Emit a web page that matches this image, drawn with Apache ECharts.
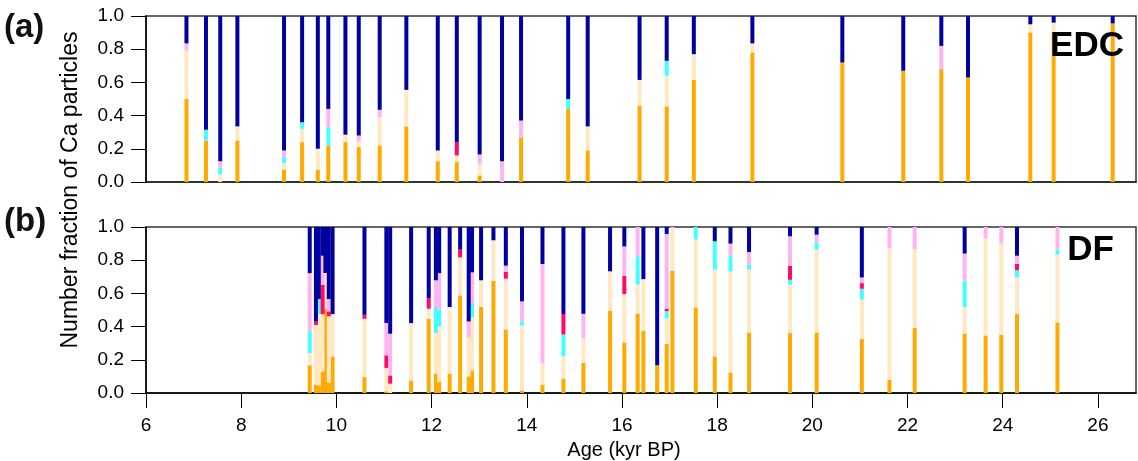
<!DOCTYPE html>
<html>
<head>
<meta charset="utf-8">
<script src="https://cdn.jsdelivr.net/npm/echarts@6/dist/echarts.min.js"></script>
<style>
  html, body { margin: 0; padding: 0; background: #fff; }
  #chart { width: 1138px; height: 461px; }
</style>
</head>
<body>
<div id="chart"></div>
<script>
// (a) EDC - age of each sample (kyr BP) and fraction of each particle type
const edcAge = [6.85, 7.26, 7.56, 7.92, 8.90, 9.28, 9.61, 9.83, 10.19, 10.47, 10.91, 11.47, 12.13, 12.53, 13.01,
  13.48, 13.88, 14.87, 15.28, 16.37, 16.94, 17.51, 18.74, 20.63, 21.91, 22.71, 23.27, 24.58, 25.07, 26.31]
const edcOrange = [0.50, 0.25, 0, 0.25, 0.075, 0.24, 0.075, 0.22, 0.24, 0.21, 0.22, 0.335, 0.125, 0.12, 0.04,
  0, 0.265, 0.44, 0.19, 0.46, 0.455, 0.615, 0.78, 0.72, 0.67, 0.68, 0.63, 0.90, 0.90, 0.955]
const edcWheat = [0.29, 0, 0.045, 0.085, 0.04, 0.08, 0.125, 0, 0.045, 0.035, 0.17, 0.22, 0.065, 0.04, 0.07,
  0, 0, 0, 0.145, 0.155, 0.185, 0.155, 0.055, 0, 0, 0, 0, 0.05, 0.06, 0]
const edcCyan = [0, 0.065, 0.04, 0, 0.035, 0.04, 0, 0.11, 0, 0, 0, 0, 0, 0, 0,
  0, 0, 0.06, 0, 0, 0.09, 0, 0, 0, 0, 0, 0, 0, 0, 0]
const edcRed = [0, 0, 0, 0, 0, 0, 0, 0, 0, 0, 0, 0, 0, 0.08, 0,
  0, 0, 0, 0, 0, 0, 0, 0, 0, 0, 0, 0, 0, 0, 0]
const edcPink = [0.045, 0, 0.04, 0, 0.04, 0, 0, 0.11, 0, 0.035, 0.045, 0, 0, 0, 0.055,
  0.125, 0.105, 0, 0, 0, 0, 0, 0, 0, 0, 0.14, 0, 0, 0, 0]
const edcNavy = [0.165, 0.685, 0.875, 0.665, 0.81, 0.64, 0.80, 0.56, 0.715, 0.72, 0.565, 0.445, 0.81, 0.76, 0.835,
  0.875, 0.63, 0.50, 0.665, 0.385, 0.27, 0.23, 0.165, 0.28, 0.33, 0.18, 0.37, 0.05, 0.04, 0.045]

// (b) DF
const dfAge = [9.44, 9.57, 9.63, 9.71, 9.77, 9.84, 9.92, 10.59, 11.05, 11.13, 11.57, 11.94, 12.09, 12.16, 12.38,
  12.60, 12.78, 12.85, 13.04, 13.30, 13.56, 13.90, 14.33, 14.77, 15.19, 15.75, 16.05, 16.33, 16.45, 16.74,
  16.94, 17.06, 17.55, 17.95, 18.28, 18.67, 19.53, 20.09, 21.04, 21.62, 22.15, 23.20, 23.64, 23.97, 24.30, 25.15]
const dfOrange = [0.167, 0.05, 0.046, 0.13, 0.506, 0.064, 0.22, 0.096, 0.01, 0, 0.074, 0.448, 0.116, 0.066, 0.116,
  0.588, 0.10, 0.137, 0.518, 0.677, 0.382, 0.016, 0.05, 0.086, 0.181, 0.496, 0.305, 0.478, 0.375, 0.167,
  0.297, 0.737, 0.516, 0.221, 0.124, 0.365, 0.361, 0.365, 0.327, 0.08, 0.392, 0.357, 0.347, 0.351, 0.478, 0.426]
const dfWheat = [0.074, 0.36, 0.43, 0.345, 0.217, 0.398, 0.255, 0.351, 0.141, 0.056, 0.347, 0.06, 0.245, 0.335, 0.402,
  0.229, 0.235, 0.321, 0.161, 0.243, 0.307, 0.39, 0.127, 0.135, 0.151, 0.237, 0.291, 0.175, 0.311, 0,
  0.151, 0.255, 0.408, 0.522, 0.608, 0.378, 0.291, 0.498, 0.235, 0.793, 0.475, 0.161, 0.583, 0.549, 0.219, 0.407]
const dfCyan = [0.13, 0, 0.09, 0, 0, 0, 0, 0, 0, 0, 0, 0, 0.157, 0.10, 0,
  0, 0, 0.084, 0, 0, 0, 0.026, 0, 0.131, 0, 0, 0, 0.171, 0, 0,
  0.044, 0, 0.076, 0.171, 0.096, 0.03, 0.03, 0.044, 0.066, 0, 0, 0.159, 0, 0, 0.042, 0.03]
const dfRed = [0, 0.02, 0, 0.177, 0, 0.03, 0, 0.024, 0.076, 0.05, 0, 0.064, 0, 0, 0,
  0.046, 0, 0, 0, 0, 0.04, 0, 0, 0.124, 0, 0, 0.11, 0, 0, 0,
  0.016, 0, 0, 0, 0, 0, 0.084, 0, 0.034, 0, 0, 0, 0, 0, 0.04, 0]
const dfPink = [0.351, 0, 0, 0.175, 0, 0.074, 0, 0, 0.195, 0.251, 0, 0, 0.161, 0.221, 0,
  0, 0.096, 0.185, 0, 0, 0.038, 0.12, 0.60, 0, 0.145, 0, 0.177, 0.176, 0, 0,
  0.45, 0.008, 0, 0, 0.072, 0.076, 0.178, 0.047, 0.034, 0.127, 0.133, 0.163, 0.07, 0.10, 0.048, 0.137]
const dfNavy = [0.278, 0.57, 0.434, 0.173, 0.277, 0.434, 0.525, 0.529, 0.578, 0.643, 0.579, 0.428, 0.321, 0.278, 0.482,
  0.137, 0.569, 0.273, 0.321, 0.08, 0.233, 0.448, 0.223, 0.524, 0.523, 0.267, 0.117, 0, 0.314, 0.833,
  0.042, 0, 0, 0.086, 0.10, 0.151, 0.056, 0.046, 0.304, 0, 0, 0.16, 0, 0, 0.173, 0]

// stack order bottom -> top
const parts = [
  { name: 'orange', color: '#FFAA00' },
  { name: 'wheat', color: '#FFE8C2' },
  { name: 'cyan', color: '#44FFFF' },
  { name: 'red', color: '#FF0A64' },
  { name: 'pink', color: '#FFB4F0' },
  { name: 'navy', color: '#0000A0' }
]

const font = '"Liberation Sans", Arial, Helvetica, sans-serif'
const BAR_W = 4

// value x axis can't stack bars, so stack by hand and draw each segment as a rect
function makeSeries(ages, cols, idx) {
  const base = ages.map(() => 0)
  return cols.map((vals, i) => {
    const data = ages.map((a, k) => {
      const lo = base[k]
      base[k] += vals[k]
      return [a, lo, base[k]]
    })
    return {
      name: parts[i].name,
      type: 'custom',
      xAxisIndex: idx,
      yAxisIndex: idx,
      clip: true,
      encode: { x: 0, y: [1, 2] },
      renderItem: (params, api) => {
        const bottom = api.coord([api.value(0), api.value(1)])
        const top = api.coord([api.value(0), api.value(2)])
        return {
          type: 'rect',
          shape: { x: bottom[0] - BAR_W / 2, y: top[1], width: BAR_W, height: bottom[1] - top[1] },
          style: { fill: parts[i].color }
        }
      },
      data
    }
  })
}

function yAxis(idx) {
  return {
    type: 'value',
    gridIndex: idx,
    min: 0,
    max: 1,
    interval: 0.2,
    axisLine: { show: true, lineStyle: { color: '#000', width: 1.5 } },
    axisTick: { show: true, length: 15, lineStyle: { color: '#000', width: 1 } },
    axisLabel: {
      margin: 22,
      fontSize: 19,
      fontFamily: font,
      color: '#000',
      formatter: v => v.toFixed(1)
    },
    splitLine: { show: false }
  }
}

const chart = echarts.init(document.getElementById('chart'))

const option = {
  animation: false,
  backgroundColor: '#fff',
  grid: [
    { left: 146, right: 2, top: 16, height: 166, show: true, borderColor: '#333', borderWidth: 1.5 },
    { left: 146, right: 2, top: 227, height: 166, show: true, borderColor: '#333', borderWidth: 1.5 }
  ],
  xAxis: [
    {
      type: 'value', gridIndex: 0, min: 6, max: 26.8, interval: 2,
      axisLine: { show: true, lineStyle: { color: '#222', width: 1.5 } },
      axisTick: { show: false },
      axisLabel: { show: false },
      splitLine: { show: false }
    },
    {
      type: 'value', gridIndex: 1, min: 6, max: 26.8, interval: 2,
      axisLine: { show: true, lineStyle: { color: '#000', width: 1.5 } },
      axisTick: { show: true, length: 15, lineStyle: { color: '#000', width: 1 } },
      axisLabel: { margin: 23, fontSize: 19, fontFamily: font, color: '#000', showMaxLabel: false },
      splitLine: { show: false }
    }
  ],
  yAxis: [yAxis(0), yAxis(1)],
  graphic: [
    {
      type: 'text', x: 71, y: 190, rotation: Math.PI / 2,
      style: { text: 'Number fraction of Ca particles', font: '23px ' + font, fill: '#000', align: 'center', verticalAlign: 'middle' }
    },
    {
      type: 'text', x: 624, y: 450,
      style: { text: 'Age (kyr BP)', font: '20px ' + font, fill: '#000', align: 'center', verticalAlign: 'middle' }
    },
    { type: 'text', x: 4, y: 28, style: { text: '(a)', font: 'bold 33px ' + font, fill: '#111', verticalAlign: 'middle' } },
    { type: 'text', x: 4, y: 222, style: { text: '(b)', font: 'bold 33px ' + font, fill: '#111', verticalAlign: 'middle' } },
    { type: 'text', x: 1124, y: 46, z: 10, style: { text: 'EDC', font: 'bold 35px ' + font, fill: '#000', align: 'right', verticalAlign: 'middle' } },
    { type: 'text', x: 1114, y: 250, z: 10, style: { text: 'DF', font: 'bold 35px ' + font, fill: '#000', align: 'right', verticalAlign: 'middle' } }
  ],
  series: [
    ...makeSeries(edcAge, [edcOrange, edcWheat, edcCyan, edcRed, edcPink, edcNavy], 0),
    ...makeSeries(dfAge, [dfOrange, dfWheat, dfCyan, dfRed, dfPink, dfNavy], 1)
  ]
}

chart.setOption(option)
</script>
</body>
</html>
